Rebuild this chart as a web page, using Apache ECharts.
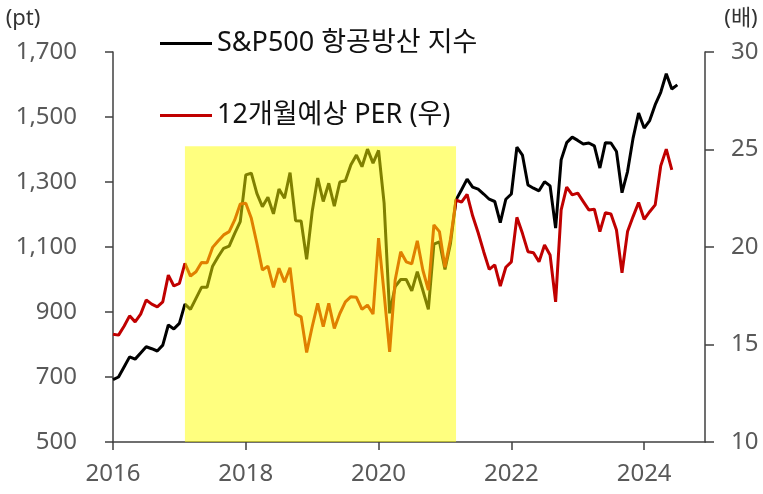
<!DOCTYPE html>
<html>
<head>
<meta charset="utf-8">
<script src="https://cdn.jsdelivr.net/npm/echarts@6/dist/echarts.min.js"></script>
<style>
  html, body { margin: 0; padding: 0; background: #fff; }
  #chart { width: 763px; height: 494px; }
</style>
</head>
<body>
<div id="chart"></div>
<script>
// 월별 카테고리 (2016-01 ~ 2024-12)
const months = []
for (let y = 2016; y <= 2024; y++) {
  for (let m = 1; m <= 12; m++) {
    months.push(y + '-' + (m < 10 ? '0' + m : m))
  }
}

// S&P500 항공방산 지수 (pt)
const indexValues = [
  692, 700, 731, 762, 755, 774, 793, 787, 780, 798, 860, 848,
  865, 924, 908, 942, 976, 976, 1041, 1070, 1096, 1103, 1142, 1178,
  1322, 1327, 1265, 1224, 1253, 1202, 1278, 1250, 1329, 1181, 1180, 1062,
  1209, 1312, 1240, 1296, 1226, 1300, 1304, 1353, 1383, 1347, 1401, 1358,
  1397, 1235, 896, 978, 1000, 1000, 965, 1024, 967, 908, 1109, 1116,
  1031, 1111, 1245, 1276, 1309, 1284, 1278, 1263, 1247, 1240, 1175, 1247,
  1263, 1407, 1383, 1291, 1281, 1273, 1301, 1288, 1158, 1368, 1421, 1438,
  1428, 1417, 1420, 1411, 1343, 1421, 1420, 1394, 1267, 1332, 1435, 1512,
  1466, 1489, 1538, 1576, 1633, 1586, 1599
]

// 12개월 예상 PER (배, 우축)
const perValues = [
  15.53, 15.48, 15.94, 16.47, 16.16, 16.56, 17.28, 17.07, 16.93, 17.19, 18.56, 18.0,
  18.13, 19.16, 18.51, 18.73, 19.21, 19.19, 19.98, 20.31, 20.62, 20.79, 21.39, 22.2,
  22.24, 21.47, 20.19, 18.82, 19.02, 17.93, 18.91, 18.2, 18.94, 16.56, 16.42, 14.59,
  15.91, 17.11, 15.91, 17.11, 15.82, 16.59, 17.19, 17.45, 17.42, 16.8, 17.02, 16.56,
  20.45, 17.62, 14.62, 18.31, 19.76, 19.24, 19.13, 20.32, 18.82, 17.79, 21.13, 20.79,
  18.96, 20.4, 22.41, 22.3, 22.7, 21.6, 20.73, 19.76, 18.85, 19.08, 18.0, 18.96,
  19.24, 21.52, 20.7, 19.76, 19.71, 19.24, 20.1, 19.59, 17.19, 21.9, 23.07, 22.67,
  22.76, 22.33, 21.9, 21.94, 20.79, 21.76, 21.69, 20.87, 18.68, 20.79, 21.56, 22.28,
  21.42, 21.81, 22.16, 24.16, 25.02, 23.95
]

// 노란 음영 구간
const shadeStart = '2017-02'
const shadeEnd = '2021-03'
const shadeTop = 1410

const leftTicks = [500, 1700, 200]
const rightTicks = [10, 30, 5]

const chart = echarts.init(document.getElementById('chart'))
const labelColor = '#595959'
const axisColor = '#404040'
const fontFamily = '"Noto Sans", "Noto Sans CJK KR", sans-serif'

const option = {
  animation: false,
  grid: { left: 113, right: 58, top: 52, bottom: 52, containLabel: false },
  legend: [
    {
      data: ['S&P500 항공방산 지수'],
      left: 160, top: 30, padding: 0,
      icon: 'rect', itemWidth: 52, itemHeight: 3,
      textStyle: { fontSize: 27, color: '#111', fontFamily: fontFamily }
    },
    {
      data: ['12개월예상 PER (우)'],
      left: 160, top: 102, padding: 0,
      icon: 'rect', itemWidth: 52, itemHeight: 3,
      textStyle: { fontSize: 27, color: '#111', fontFamily: fontFamily }
    }
  ],
  xAxis: {
    type: 'category',
    data: months,
    boundaryGap: false,
    axisLine: { lineStyle: { color: axisColor, width: 1.5 } },
    axisTick: { length: 8, interval: (i) => i % 24 === 0, lineStyle: { color: axisColor, width: 1.5 } },
    axisLabel: {
      interval: (i) => i % 24 === 0,
      formatter: (v) => v.slice(0, 4),
      color: labelColor, fontSize: 24, margin: 20, fontFamily: fontFamily
    }
  },
  yAxis: [
    {
      type: 'value',
      min: leftTicks[0], max: leftTicks[1], interval: leftTicks[2],
      name: '(pt)',
      nameLocation: 'end',
      nameGap: 22,
      nameTextStyle: { color: '#333', fontSize: 22, align: 'center', padding: [0, 0, 0, -180], fontFamily: fontFamily },
      splitLine: { show: false },
      axisLine: { show: true, lineStyle: { color: axisColor, width: 1.5 } },
      axisTick: { show: true, length: 8, lineStyle: { color: axisColor, width: 1.5 } },
      axisLabel: {
        color: labelColor, fontSize: 24, margin: 36, fontFamily: fontFamily,
        formatter: (v) => v.toLocaleString('en-US')
      }
    },
    {
      type: 'value',
      position: 'right',
      min: rightTicks[0], max: rightTicks[1], interval: rightTicks[2],
      name: '(배)',
      nameLocation: 'end',
      nameGap: 22,
      nameTextStyle: { color: '#333', fontSize: 22, align: 'center', padding: [0, -72, 0, 0], fontFamily: fontFamily },
      splitLine: { show: false },
      axisLine: { show: true, lineStyle: { color: axisColor, width: 1.5 } },
      axisTick: { show: true, length: 9, lineStyle: { color: axisColor, width: 1.5 } },
      axisLabel: { color: labelColor, fontSize: 24, margin: 26, fontFamily: fontFamily }
    }
  ],
  series: [
    {
      name: 'S&P500 항공방산 지수',
      type: 'line',
      yAxisIndex: 0,
      data: indexValues,
      symbol: 'none',
      z: 2,
      color: '#000000',
      lineStyle: { width: 3, color: '#000000' },
      markArea: {
        silent: true,
        z: 10,
        itemStyle: { color: 'rgba(255,255,0,0.5)' },
        data: [[
          { xAxis: shadeStart, yAxis: leftTicks[0] },
          { xAxis: shadeEnd, yAxis: shadeTop }
        ]]
      }
    },
    {
      name: '12개월예상 PER (우)',
      type: 'line',
      yAxisIndex: 1,
      data: perValues,
      symbol: 'none',
      z: 2,
      color: '#C00000',
      lineStyle: { width: 3, color: '#C00000' }
    }
  ]
}
chart.setOption(option)
</script>
</body>
</html>
